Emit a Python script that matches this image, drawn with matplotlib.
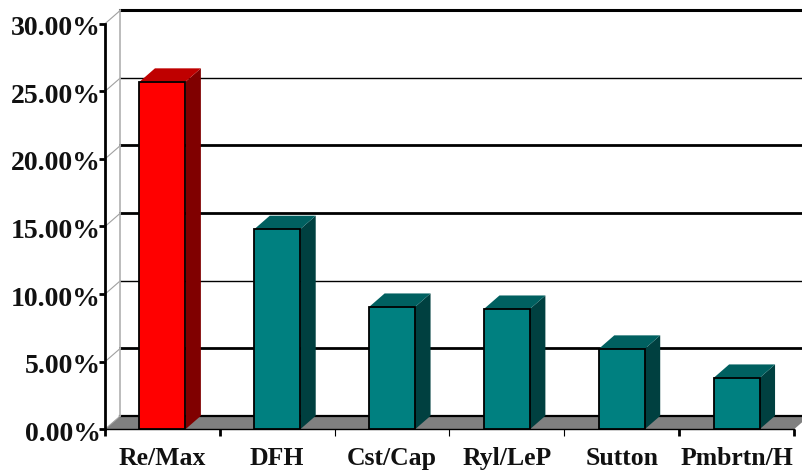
import matplotlib
matplotlib.use("Agg")
import matplotlib.pyplot as plt
from matplotlib.patches import Polygon
from matplotlib.transforms import ScaledTranslation

labels = ["Re/Max", "DFH", "Cst/Cap", "Ryl/LeP", "Sutton", "Pmbrtn/H"]
values = [25.7, 14.8, 9.05, 8.9, 5.95, 3.8]
yticks = [0, 5, 10, 15, 20, 25, 30]
grid_widths = [1.6, 2.0, 1.0, 2.0, 2.0, 1.0, 2.2]
# face, top, side
red = ["#ff0000", "#bf0000", "#800000"]
teal = ["#008080", "#006060", "#004040"]
bar_colors = [red, teal, teal, teal, teal, teal]
xtick_colors = ["black", "black", "#a0a0a0", "#a0a0a0", "#a0a0a0", "black", "black"]
xtick_widths = [2, 2, 0.8, 0.8, 0.8, 2, 2]

W, H = 803, 470
plt.rcParams["font.family"] = ["Liberation Serif", "DejaVu Serif"]
fig = plt.figure(figsize=(W / 100, H / 100), dpi=100)
ax = fig.add_axes([105 / W, (H - 429.3) / H, 689 / W, 405.6 / H])
ax.set_xlim(0, 6)
ax.set_ylim(0, 30)

# depth of the 3d box in data units
dx = 15.5 / (689 / 6)
dy = 13.5 / (405.6 / 30)
bw = 0.4

for s in ["top", "right"]:
    ax.spines[s].set_visible(False)
ax.spines["left"].set_linewidth(2)
ax.spines["bottom"].set_linewidth(1.0)
ax.set_facecolor("none")

# floor
ax.add_patch(Polygon([(0, 0), (6, 0), (6 + dx, dy), (dx, dy)], fc="#808080", ec="none", zorder=1, clip_on=False))

# back wall grid and side wall
for y, lw in zip(yticks, grid_widths):
    ax.plot([dx, 6 + dx + 0.1], [y + dy, y + dy], color="black", lw=lw, clip_on=False, zorder=2)
    ax.plot([0, dx], [y, y + dy], color="#a0a0a0", lw=0.8, clip_on=False, zorder=2)
ax.plot([dx, dx], [dy, 30 + dy], color="#b0b0b0", lw=1.2, clip_on=False, zorder=2)

for i, v in enumerate(values):
    x0 = i + 0.5 - bw / 2
    x1 = x0 + bw
    face, top, side = bar_colors[i]
    ax.add_patch(Polygon([(x1, 0), (x1 + dx, dy), (x1 + dx, v + dy), (x1, v)], fc=side, ec="none", zorder=3, clip_on=False))
    ax.add_patch(Polygon([(x0, v), (x1, v), (x1 + dx, v + dy), (x0 + dx, v + dy)], fc=top, ec="none", zorder=3, clip_on=False))
    ax.bar(i + 0.5, v, width=bw, color=face, edgecolor="black", lw=1.3, zorder=4, clip_on=False)

ax.set_yticks(yticks)
ax.set_yticklabels(["%.2f%%" % y for y in yticks], fontsize=20, fontweight="bold", color="#111111")
ax.set_xticks(range(7))
ax.set_xticklabels([])
ax.tick_params(axis="y", width=2, length=4.5, pad=-1.4)
ax.tick_params(axis="x", width=2, length=5)
# tick labels sit a little under their ticks
shift = ScaledTranslation(0, -2 / 100, fig.dpi_scale_trans)
for lab in ax.get_yticklabels():
    lab.set_transform(lab.get_transform() + shift)
for tick, c, lw in zip(ax.xaxis.get_major_ticks(), xtick_colors, xtick_widths):
    tick.tick1line.set_color(c)
    tick.tick1line.set_markeredgewidth(lw)
for i, lab in enumerate(labels):
    ax.annotate(lab, (i + 0.5, 0), xytext=(0, -26), textcoords="offset points", ha="center", va="baseline",
                fontsize=18.5, fontweight="bold", color="#111111", annotation_clip=False)

fig.savefig("out.png", dpi=100)
